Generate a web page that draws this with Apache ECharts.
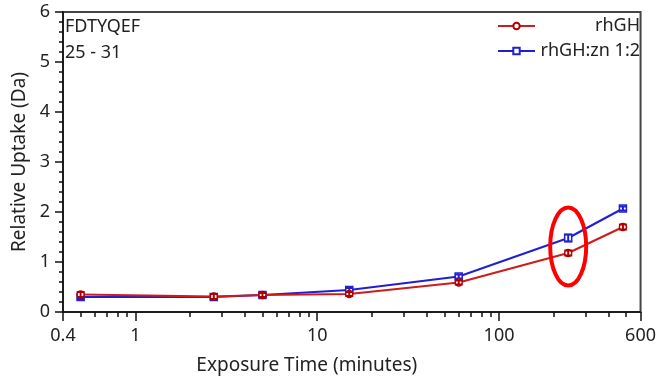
<!DOCTYPE html>
<html>
<head>
<meta charset="utf-8">
<script src="https://cdn.jsdelivr.net/npm/echarts@6/dist/echarts.min.js"></script>
<style>
  html, body { margin: 0; padding: 0; background: #fff; }
  #chart { width: 659px; height: 380px; }
</style>
</head>
<body>
<div id="chart"></div>
<script>
// exposure times (minutes)
var times = [0.5, 2.7, 5, 15, 60, 240, 480];
// relative uptake (Da)
var rhGH = [0.35, 0.31, 0.34, 0.36, 0.59, 1.18, 1.70];
var rhGHerr = [0.05, 0.05, 0.04, 0.04, 0.04, 0.05, 0.05];
var rhGHzn = [0.30, 0.30, 0.34, 0.44, 0.71, 1.48, 2.07];
var rhGHznErr = [0.04, 0.04, 0.04, 0.04, 0.04, 0.07, 0.04];

var xLabels = [0.4, 1, 10, 100, 600];
var xMajorTicks = [0.4, 1, 10, 100, 600];
var xMinorTicks = [0.5, 0.6, 0.7, 0.8, 0.9, 2, 3, 4, 5, 6, 7, 8, 9,
  20, 30, 40, 50, 60, 70, 80, 90, 200, 300, 400, 500];

// highlighted point (red ellipse)
var highlight = [240, 1.31];

var chart = echarts.init(document.getElementById('chart'));

function pairs(ys) {
  return times.map(function (t, i) { return [t, ys[i]]; });
}
function errData(ys, es) {
  return times.map(function (t, i) { return [t, ys[i] - es[i], ys[i] + es[i]]; });
}

function errorBars(color) {
  return function (params, api) {
    var lo = api.coord([api.value(0), api.value(1)]);
    var hi = api.coord([api.value(0), api.value(2)]);
    var w = 4;
    var st = { stroke: color, lineWidth: 2 };
    return {
      type: 'group',
      children: [
        { type: 'line', shape: { x1: lo[0], y1: lo[1], x2: hi[0], y2: hi[1] }, style: st },
        { type: 'line', shape: { x1: lo[0] - w, y1: lo[1], x2: lo[0] + w, y2: lo[1] }, style: st },
        { type: 'line', shape: { x1: hi[0] - w, y1: hi[1], x2: hi[0] + w, y2: hi[1] }, style: st }
      ]
    };
  };
}

var font = 'Noto Sans';
var blue = '#2020d0';
var red = '#cc1c1c';

var option = {
  animation: false,
  textStyle: { fontFamily: font },
  grid: { left: 63, right: 14, top: 12, bottom: 68, show: true, borderColor: '#444', borderWidth: 2 },
  title: {
    text: 'FDTYQEF\n25 - 31',
    left: 60, top: 9,
    textStyle: { fontFamily: font, fontSize: 18, fontWeight: 'normal', color: '#222', lineHeight: 26 }
  },
  legend: {
    orient: 'vertical',
    right: 14, top: 12,
    itemWidth: 37, itemHeight: 8, itemGap: 7,
    data: ['rhGH', 'rhGH:zn 1:2'],
    formatter: '{a|{name}}',
    textStyle: {
      fontFamily: font, fontSize: 18, color: '#222',
      rich: { a: { width: 100, align: 'right', fontSize: 18, fontFamily: font } }
    }
  },
  xAxis: [{
    type: 'log', logBase: 10, min: 0.4, max: 600,
    name: 'Exposure Time (minutes)', nameLocation: 'middle', nameGap: 44,
    nameTextStyle: { fontSize: 19, color: '#222', padding: [0, 90, 0, 0] },
    axisLine: { lineStyle: { color: '#111', width: 1.5 } },
    axisTick: { customValues: xMinorTicks, length: 5, lineStyle: { color: '#111', width: 1.5 } },
    axisLabel: { customValues: xLabels, fontSize: 18, color: '#222', margin: 15 },
    splitLine: { show: false }
  }, {
    type: 'log', logBase: 10, min: 0.4, max: 600, position: 'bottom',
    axisLine: { show: false },
    axisTick: { customValues: xMajorTicks, length: 9, lineStyle: { color: '#111', width: 1.5 } },
    axisLabel: { show: false },
    splitLine: { show: false }
  }],
  yAxis: {
    type: 'value', min: 0, max: 6, interval: 1,
    name: 'Relative Uptake (Da)', nameLocation: 'middle', nameGap: 33,
    nameTextStyle: { fontSize: 19, color: '#222' },
    axisLine: { show: true, lineStyle: { color: '#111', width: 1.5 } },
    axisTick: { show: true, length: 8, lineStyle: { color: '#111', width: 1.5 } },
    minorTick: { show: true, splitNumber: 5, length: 4, lineStyle: { color: '#111', width: 1.5 } },
    axisLabel: { fontSize: 18, color: '#222', margin: 13 },
    splitLine: { show: false }
  },
  series: [{
    name: 'rhGH:zn 1:2', type: 'line', data: pairs(rhGHzn),
    symbol: 'rect', symbolSize: 7,
    lineStyle: { color: blue, width: 2 },
    itemStyle: { color: '#fff', borderColor: blue, borderWidth: 1.5 },
    z: 2
  }, {
    type: 'custom', renderItem: errorBars(blue), data: errData(rhGHzn, rhGHznErr), z: 3
  }, {
    name: 'rhGH', type: 'line', data: pairs(rhGH),
    symbol: 'circle', symbolSize: 7,
    lineStyle: { color: red, width: 2 },
    itemStyle: { color: '#fff', borderColor: '#b00000', borderWidth: 1.5 },
    z: 4
  }, {
    type: 'custom', renderItem: errorBars('#b00000'), data: errData(rhGH, rhGHerr), z: 5
  }, {
    type: 'custom', data: [highlight], z: 10,
    renderItem: function (params, api) {
      var c = api.coord([api.value(0), api.value(1)]);
      return {
        type: 'ellipse',
        shape: { cx: c[0], cy: c[1], rx: 18, ry: 39 },
        style: { fill: null, stroke: '#ff0000', lineWidth: 4 }
      };
    }
  }]
};

chart.setOption(option);
window.addEventListener('resize', function () { chart.resize(); });
</script>
</body>
</html>
